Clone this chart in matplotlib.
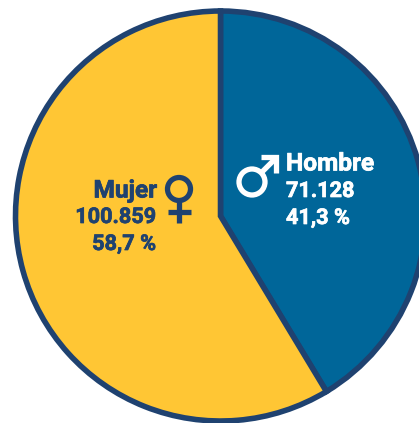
import matplotlib
matplotlib.use("Agg")
import matplotlib.pyplot as plt
import matplotlib.patheffects as pe
from matplotlib.lines import Line2D

plt.rcParams['font.family'] = ['Roboto', 'DejaVu Sans']

# values from the chart
categories = ["Hombre", "Mujer"]
values = [71128, 100859]
value_labels = ["71.128", "100.859"]
pct_labels = ["41,3 %", "58,7 %"]
colors = ["#006699", "#FFC634"]
edge = "#1F4270"

W, H = 419, 423
fig = plt.figure(figsize=(W / 100, H / 100), dpi=100)

# pie
cx, cy, r = 220.5, 216, 205
ax2 = fig.add_axes([(cx - r) / W, 1 - (cy + r) / H, 2 * r / W, 2 * r / H])
ax2.pie(values, colors=colors, startangle=90, counterclock=False, radius=1,
        wedgeprops=dict(edgecolor=edge, linewidth=4))
ax2.set_xlim(-1, 1)
ax2.set_ylim(-1, 1)
for p in ax2.patches:
    p.set_clip_on(False)

# overlay in pixel coords for the labels and signs
ax3 = fig.add_axes([0, 0, 1, 1])
ax3.set_xlim(0, W)
ax3.set_ylim(H, 0)
ax3.axis("off")


def label(x, y, s, size, ha, col):
    # Roboto bold is a bit thin here, thicken it with a small stroke
    ax3.text(x, y, s, ha=ha, va="center", fontsize=size, fontweight="bold", color=col,
             path_effects=[pe.withStroke(linewidth=0.5, foreground=col)])


# Mujer text
label(157, 191, categories[1], 17.6, "right", edge)
label(156, 217, value_labels[1], 15.6, "right", edge)
label(156, 244, pct_labels[1], 15.6, "right", edge)

# Hombre text
label(286, 164, categories[0], 17.6, "left", "white")
label(286, 191, value_labels[0], 15.6, "left", "white")
label(286, 218, pct_labels[0], 15.6, "left", "white")

# female sign
ax3.add_patch(plt.Circle((179, 189), 11.5, fill=False, ec=edge, lw=3.8))
ax3.add_line(Line2D([179, 179], [201, 223], color=edge, lw=3.8, solid_capstyle="butt"))
ax3.add_line(Line2D([168, 191], [212, 212], color=edge, lw=3.8, solid_capstyle="butt"))

# male sign
ax3.add_patch(plt.Circle((252, 182), 13, fill=False, ec="white", lw=3.8))
ax3.add_line(Line2D([261, 276], [173, 158], color="white", lw=3.8, solid_capstyle="butt"))
ax3.add_line(Line2D([261, 276, 276], [157.5, 157.5, 173], color="white", lw=3.8,
                    solid_joinstyle="miter", solid_capstyle="butt"))

fig.savefig("out.png", dpi=100)
